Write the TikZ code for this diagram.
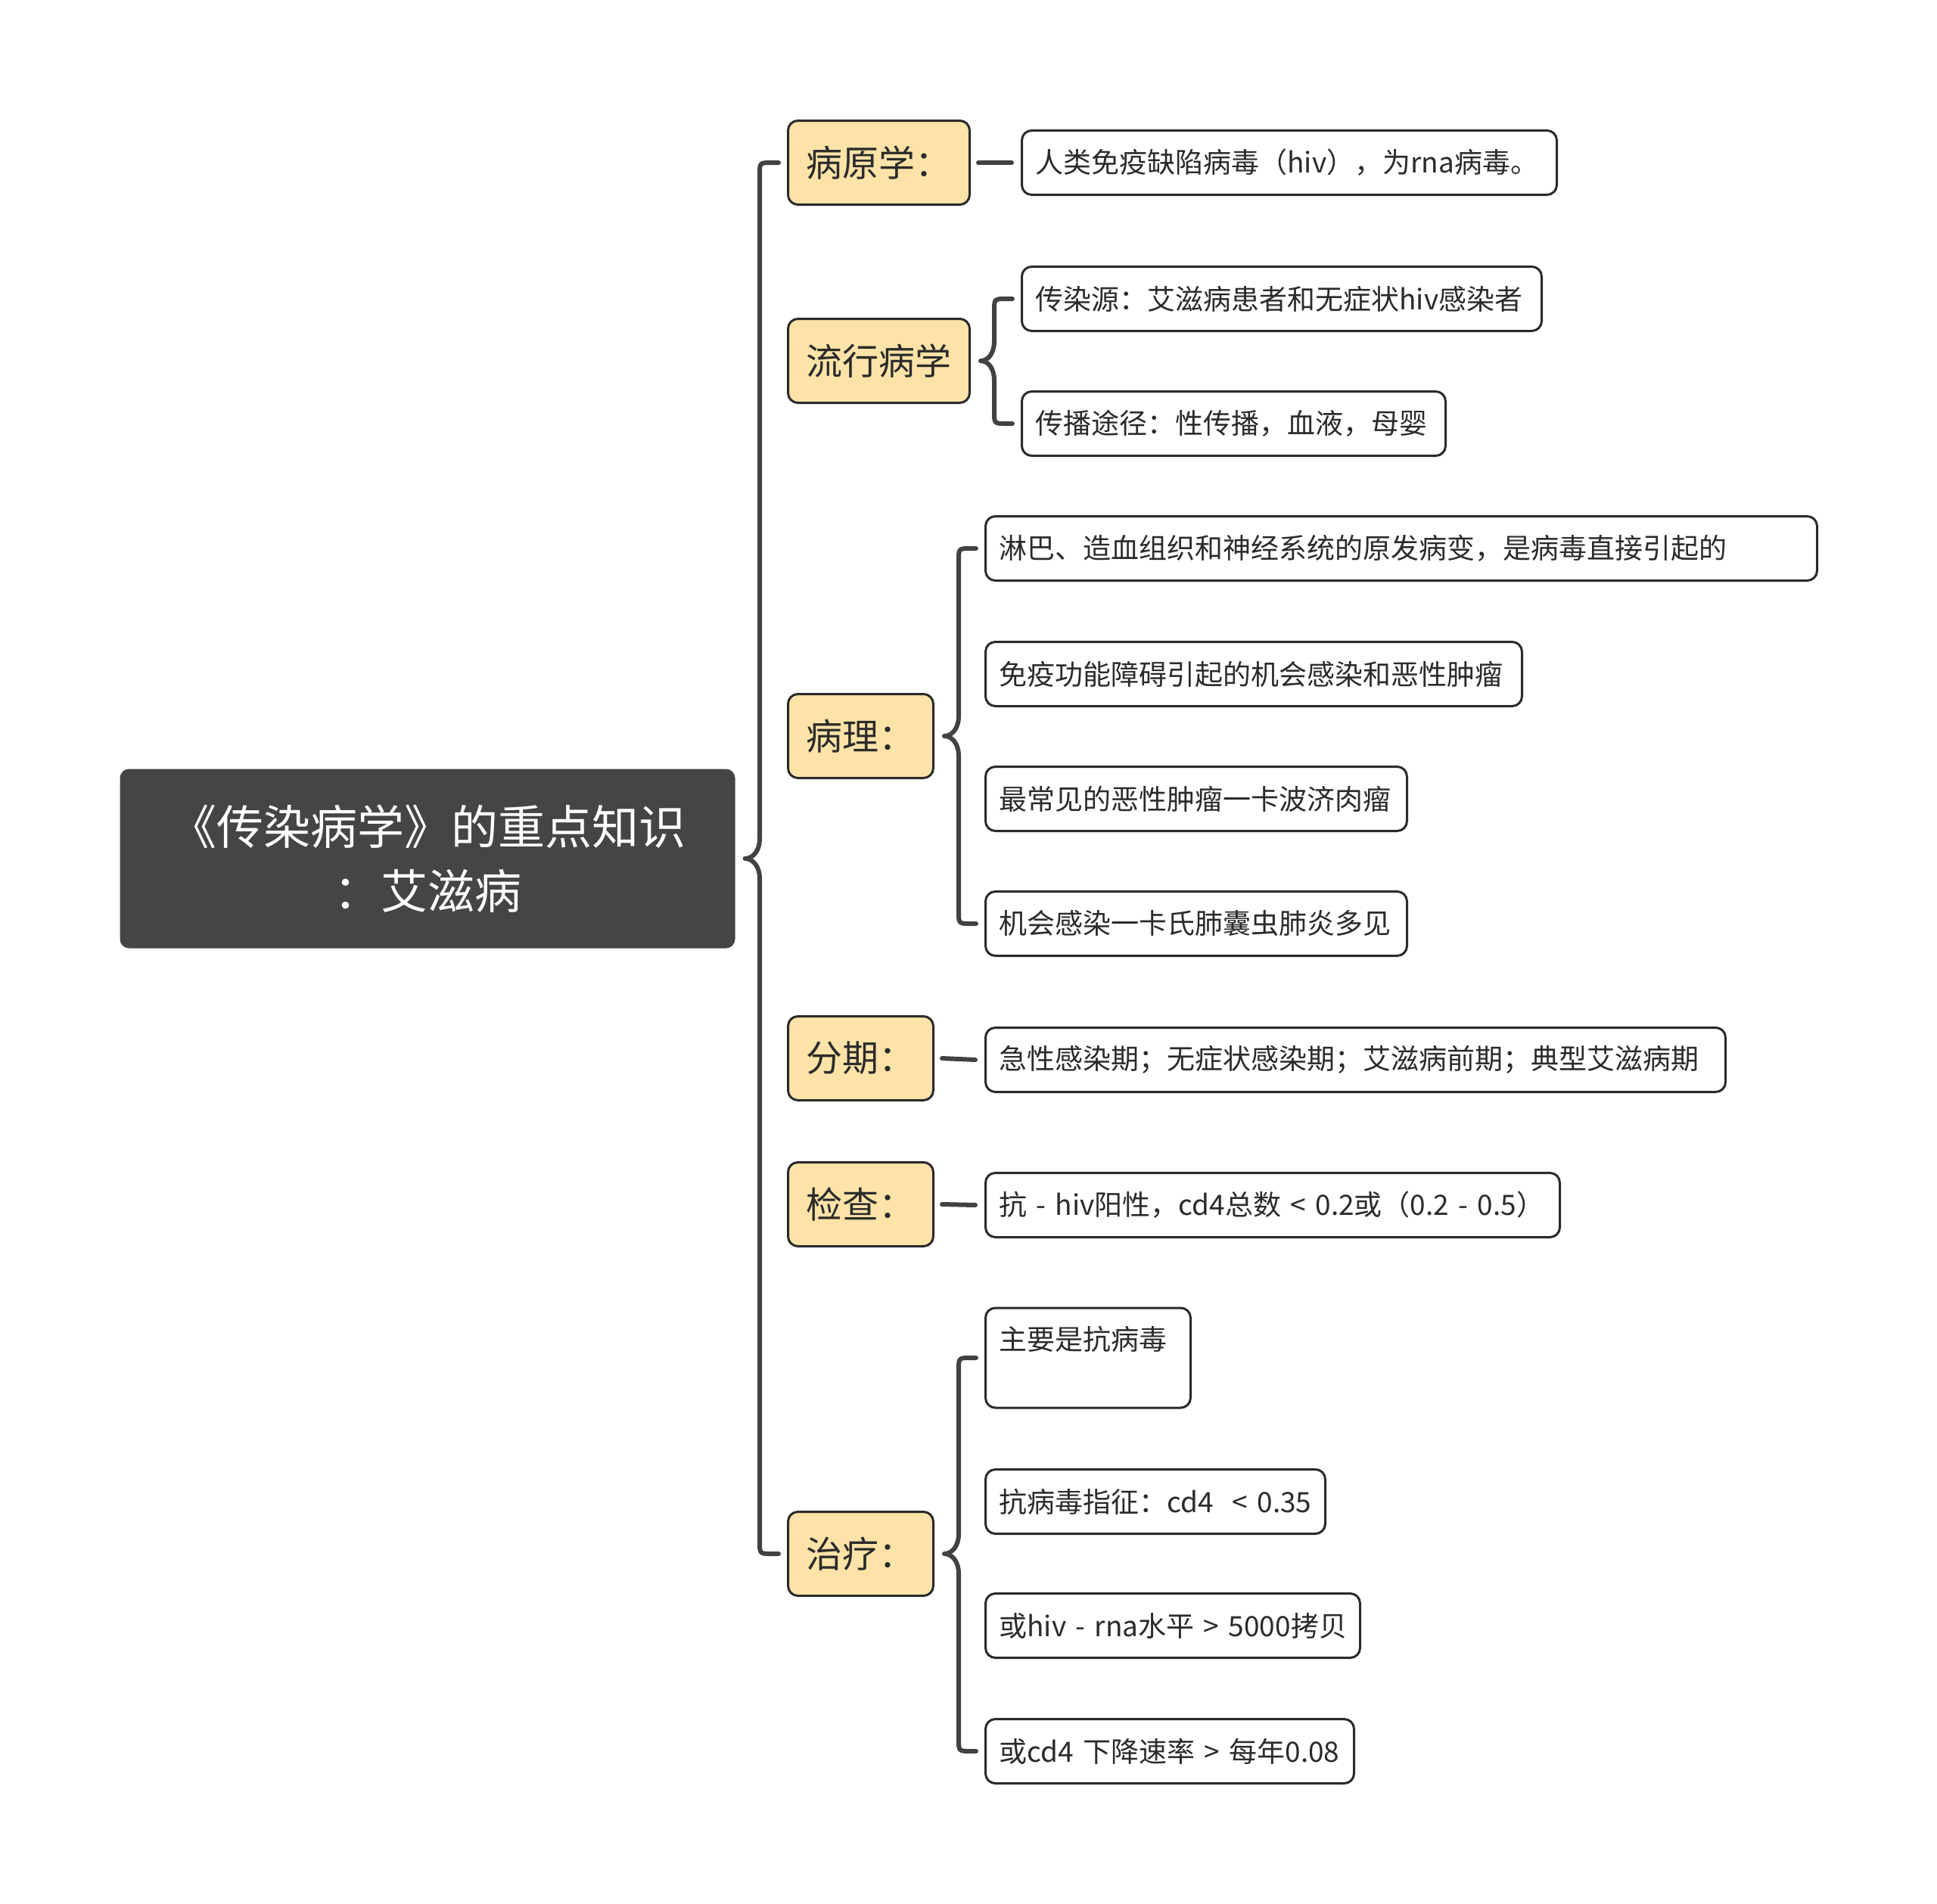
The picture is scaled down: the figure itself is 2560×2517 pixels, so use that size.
\documentclass[tikz,border=0pt]{standalone}
\usepackage{fontspec}
\setmainfont{Noto Sans CJK SC}
\usetikzlibrary{calc}
\definecolor{rootgray}{HTML}{454545}
\definecolor{linegray}{HTML}{424242}
\definecolor{topicyellow}{HTML}{FDE3A8}
\definecolor{inkgray}{HTML}{2B2B2B}
\tikzset{
  root/.style={fill=rootgray, rounded corners=12pt, text=white, align=center,
    font=\fontsize{62}{85}\selectfont, minimum width=813pt, minimum height=237pt},
  topic/.style={draw=inkgray, line width=3pt, fill=topicyellow, rounded corners=13pt,
    anchor=west, inner xsep=24pt, minimum height=111pt, text=inkgray,
    font=\fontsize{48}{56}\selectfont},
  leaf/.style={draw=inkgray, line width=3pt, fill=white, rounded corners=13pt,
    anchor=west, inner xsep=18pt, minimum height=85pt, align=left, text=inkgray,
    font=\fontsize{37}{46}\selectfont},
  link/.style={draw=linegray, line width=6pt, line cap=round, line join=round},
}
\begin{document}
\begin{tikzpicture}[x=1pt,y=-1pt]
\useasboundingbox (0,0) rectangle (2560,2517);
% root
\node[root] (aids) at (565,1135) {《传染病学》的重点知识\\：艾滋病};
% first level
\node[topic] (etio) at (1040,215) {病原学：};
\node[topic] (epid) at (1040,477) {流行病学};
\node[topic] (path) at (1040,973) {病理：};
\node[topic] (stage) at (1040,1399) {分期：};
\node[topic] (exam) at (1040,1592) {检查：};
\node[topic] (treat) at (1040,2054) {治疗：};
% second level
\node[leaf, text width=671pt] (hiv) at (1349,215) {人类免疫缺陷病毒（hiv），为rna病毒。};
\node[leaf, text width=651pt] (source) at (1349,395) {传染源：艾滋病患者和无症状hiv感染者};
\node[leaf, text width=524pt] (route) at (1349,560) {传播途径：性传播，血液，母婴};
\node[leaf, text width=1063pt] (lymph) at (1301,725) {淋巴、造血组织和神经系统的原发病变，是病毒直接引起的};
\node[leaf, text width=673pt] (immune) at (1301,891) {免疫功能障碍引起的机会感染和恶性肿瘤};
\node[leaf, text width=521pt] (kaposi) at (1301,1056) {最常见的恶性肿瘤一卡波济肉瘤};
\node[leaf, text width=521pt] (pcp) at (1301,1221) {机会感染一卡氏肺囊虫肺炎多见};
\node[leaf, text width=942pt] (phases) at (1301,1401) {急性感染期；无症状感染期；艾滋病前期；典型艾滋病期};
\node[leaf, text width=723pt] (antihiv) at (1301,1593) {\mbox{抗 - hiv阳性，cd4总数 < 0.2或（0.2 - 0.5）}};
\node[leaf, text width=235pt, minimum height=132pt, text depth=52pt] (antiv) at (1301,1795) {主要是抗病毒};
\node[leaf, text width=413pt] (indic) at (1301,1985) {\mbox{抗病毒指征：cd4\ \ < 0.35}};
\node[leaf, text width=459pt] (rna) at (1301,2149) {\mbox{或hiv - rna水平 > 5000拷贝}};
\node[leaf, text width=451pt] (cdrate) at (1301,2315) {\mbox{或cd4 下降速率 > 每年0.08}};
% single links
\draw[link] ([xshift=10pt]etio.east) -- ([xshift=-12pt]hiv.west);
\draw[link] ([xshift=10pt]stage.east) -- ([xshift=-12pt]phases.west);
\draw[link] ([xshift=10pt]exam.east) -- ([xshift=-12pt]antihiv.west);
% braces
\coordinate (t0) at ([xshift=13pt]aids.east);
\coordinate (v0) at ([xshift=-36pt]etio.west);
\draw[link] ([xshift=-11pt]etio.west) -- ($(v0)+(16,0)$) .. controls (v0) .. ($(v0)+(0,16)$)
  -- ($(v0 |- t0)+(0,-26)$)
  .. controls ($(v0 |- t0)+(0,-10)$) and ($(t0)+(10,0)$) .. (t0)
  .. controls ($(t0)+(10,0)$) and ($(v0 |- t0)+(0,10)$) .. ($(v0 |- t0)+(0,26)$)
  -- ($(v0 |- treat.west)+(0,-16)$) .. controls (v0 |- treat.west) .. ($(v0 |- treat.west)+(16,0)$)
  -- ([xshift=-11pt]treat.west);
\coordinate (t2) at ([xshift=13pt]epid.east);
\coordinate (v2) at ([xshift=-35pt]source.west);
\draw[link] ([xshift=-11pt]source.west) -- ($(v2)+(16,0)$) .. controls (v2) .. ($(v2)+(0,16)$)
  -- ($(v2 |- t2)+(0,-26)$)
  .. controls ($(v2 |- t2)+(0,-10)$) and ($(t2)+(10,0)$) .. (t2)
  .. controls ($(t2)+(10,0)$) and ($(v2 |- t2)+(0,10)$) .. ($(v2 |- t2)+(0,26)$)
  -- ($(v2 |- route.west)+(0,-16)$) .. controls (v2 |- route.west) .. ($(v2 |- route.west)+(16,0)$)
  -- ([xshift=-11pt]route.west);
\coordinate (t3) at ([xshift=13pt]path.east);
\coordinate (v3) at ([xshift=-34pt]lymph.west);
\draw[link] ([xshift=-11pt]lymph.west) -- ($(v3)+(16,0)$) .. controls (v3) .. ($(v3)+(0,16)$)
  -- ($(v3 |- t3)+(0,-26)$)
  .. controls ($(v3 |- t3)+(0,-10)$) and ($(t3)+(10,0)$) .. (t3)
  .. controls ($(t3)+(10,0)$) and ($(v3 |- t3)+(0,10)$) .. ($(v3 |- t3)+(0,26)$)
  -- ($(v3 |- pcp.west)+(0,-16)$) .. controls (v3 |- pcp.west) .. ($(v3 |- pcp.west)+(16,0)$)
  -- ([xshift=-11pt]pcp.west);
\coordinate (t6) at ([xshift=13pt]treat.east);
\coordinate (v6) at ([xshift=-34pt]antiv.west);
\draw[link] ([xshift=-11pt]antiv.west) -- ($(v6)+(16,0)$) .. controls (v6) .. ($(v6)+(0,16)$)
  -- ($(v6 |- t6)+(0,-26)$)
  .. controls ($(v6 |- t6)+(0,-10)$) and ($(t6)+(10,0)$) .. (t6)
  .. controls ($(t6)+(10,0)$) and ($(v6 |- t6)+(0,10)$) .. ($(v6 |- t6)+(0,26)$)
  -- ($(v6 |- cdrate.west)+(0,-16)$) .. controls (v6 |- cdrate.west) .. ($(v6 |- cdrate.west)+(16,0)$)
  -- ([xshift=-11pt]cdrate.west);
\end{tikzpicture}
\end{document}
